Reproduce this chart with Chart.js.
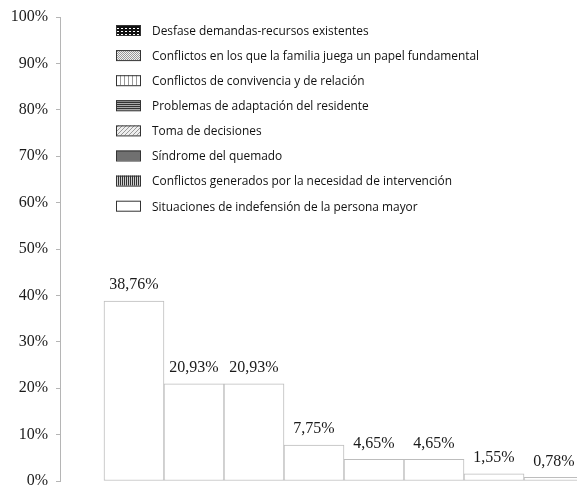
<!DOCTYPE html>
<html>
<head>
<meta charset="utf-8">
<title>Conflictos en residencias</title>
<script src="https://cdn.jsdelivr.net/npm/chart.js@4.4.0/dist/chart.umd.min.js"></script>
<style>
	html, body { margin: 0; padding: 0; background: #fff; }
	#wrap { width: 577px; height: 487px; }
</style>
</head>
<body>
<div id="wrap"><canvas id="graph"></canvas></div>
<script>
	// legend order as printed in the figure
	const legendLabels = [
		'Desfase demandas-recursos existentes',
		'Conflictos en los que la familia juega un papel fundamental',
		'Conflictos de convivencia y de relación',
		'Problemas de adaptación del residente',
		'Toma de decisiones',
		'Síndrome del quemado',
		'Conflictos generados por la necesidad de intervención',
		'Situaciones de indefensión de la persona mayor'
	];
	// bars, left to right
	const categories = legendLabels.slice().reverse();
	const values = [38.76, 20.93, 20.93, 7.75, 4.65, 4.65, 1.55, 0.78];
	const yTicks = [0, 10, 20, 30, 40, 50, 60, 70, 80, 90, 100];

	function fmt(v) {
		return v.toFixed(2).replace('.', ',') + '%';
	}

	function tile(w, h, draw) {
		const c = document.createElement('canvas');
		c.width = w;
		c.height = h;
		draw(c.getContext('2d'));
		return c;
	}

	function legendFill(ctx, i) {
		let t;
		if (i == 0) {
			t = tile(4, 3, g => { g.fillStyle = '#111'; g.fillRect(0, 0, 4, 3); g.fillStyle = '#fff'; g.fillRect(1, 1, 2, 1); });
		} else if (i == 1) {
			t = tile(2, 2, g => { g.fillStyle = '#f2f2f2'; g.fillRect(0, 0, 2, 2); g.fillStyle = '#999'; g.fillRect(0, 0, 1, 1); g.fillRect(1, 1, 1, 1); });
		} else if (i == 2) {
			t = tile(4, 1, g => { g.fillStyle = '#fff'; g.fillRect(0, 0, 4, 1); g.fillStyle = '#999'; g.fillRect(0, 0, 1, 1); });
		} else if (i == 3) {
			t = tile(1, 2, g => { g.fillStyle = '#333'; g.fillRect(0, 0, 1, 1); g.fillStyle = '#aaa'; g.fillRect(0, 1, 1, 1); });
		} else if (i == 4) {
			t = tile(4, 4, g => { g.fillStyle = '#eee'; g.fillRect(0, 0, 4, 4); g.fillStyle = '#999'; for (let k = 0; k < 4; k++) g.fillRect(3 - k, k, 1, 1); });
		} else if (i == 5) {
			return '#707070';
		} else if (i == 6) {
			t = tile(2, 1, g => { g.fillStyle = '#333'; g.fillRect(0, 0, 1, 1); g.fillStyle = '#d0d0d0'; g.fillRect(1, 0, 1, 1); });
		} else {
			return '#fff';
		}
		return ctx.createPattern(t, 'repeat');
	}

	const figureLegend = {
		id: 'figureLegend',
		afterDraw(chart) {
			const ctx = chart.ctx;
			ctx.save();
			ctx.font = '11.9px "Open Sans"';
			ctx.textBaseline = 'middle';
			legendLabels.forEach((label, i) => {
				const y = 30 + i * 25.1;
				ctx.fillStyle = legendFill(ctx, i);
				ctx.fillRect(116, y - 5, 25, 10);
				ctx.strokeStyle = '#333';
				ctx.lineWidth = 1;
				ctx.strokeRect(116.5, y - 4.5, 24, 10);
				ctx.fillStyle = '#111';
				ctx.fillText(label, 152, y + 1.5);
			});
			ctx.restore();
		}
	};

	const valueLabels = {
		id: 'valueLabels',
		afterDatasetsDraw(chart) {
			const ctx = chart.ctx;
			const meta = chart.getDatasetMeta(0);
			ctx.save();
			ctx.font = '16px "Liberation Serif"';
			ctx.fillStyle = '#1a1a1a';
			ctx.textAlign = 'center';
			ctx.textBaseline = 'bottom';
			meta.data.forEach((bar, i) => {
				ctx.fillText(fmt(values[i]), bar.x, bar.y - 8);
			});
			ctx.restore();
		}
	};

	(function() {
		const ctx = document.getElementById('graph').getContext('2d');

		new Chart(ctx, {
			type: 'bar',
			data: {
				datasets: [{
					label: 'Conflictos',
					data: values.map((v, i) => ({ x: i, y: v, name: categories[i] })),
					backgroundColor: '#fff',
					borderColor: '#bdbdbd',
					borderWidth: 1,
					borderSkipped: false,
					categoryPercentage: 1,
					barPercentage: 1
				}]
			},
			plugins: [valueLabels, figureLegend],
			options: {
				responsive: true,
				maintainAspectRatio: false,
				animation: false,
				layout: { padding: { top: 17, bottom: 6, left: 0, right: 0 } },
				scales: {
					x: {
						type: 'linear',
						offset: false,
						min: -1.233,
						max: 7.383,
						display: false
					},
					y: {
						min: 0,
						max: 100,
						afterBuildTicks: s => { s.ticks = yTicks.map(v => ({ value: v })); },
						afterFit: s => { s.width = 60; s.paddingTop = 0; s.paddingBottom = 0; },
						border: { display: true, color: '#b5b5b5' },
						grid: { drawOnChartArea: false, drawTicks: true, tickLength: 4, color: '#b5b5b5' },
						ticks: {
							padding: 8,
							color: '#1a1a1a',
							font: { family: 'Liberation Serif', size: 16 },
							callback: v => v + '%'
						}
					}
				},
				plugins: {
					legend: { display: false },
					tooltip: { enabled: false }
				}
			}
		});
	})();
</script>
</body>
</html>
